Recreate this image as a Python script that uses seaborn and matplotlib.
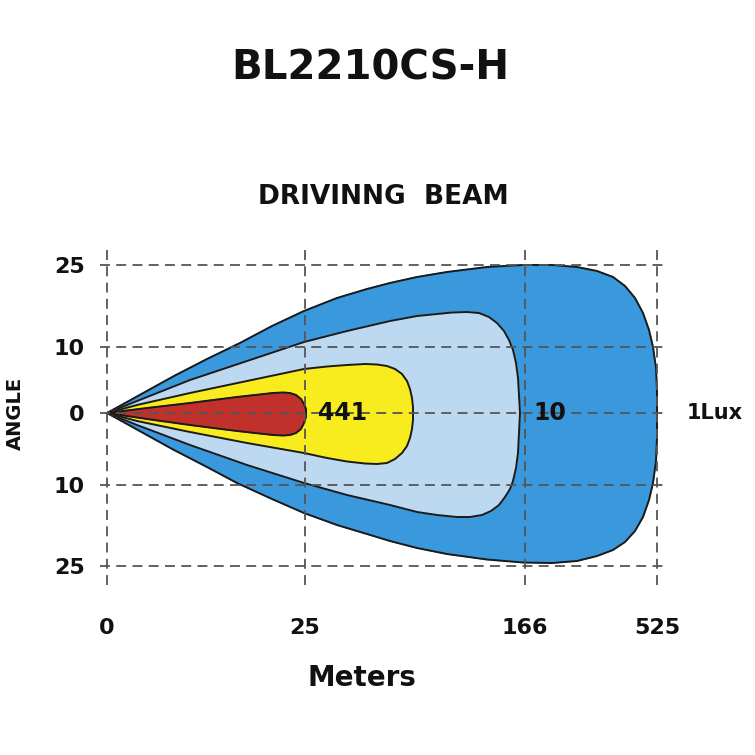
import pandas as pd
import matplotlib
matplotlib.use("Agg")
import matplotlib.pyplot as plt
import seaborn as sns

# chart units: x = distance along beam, y = spread (upper positive)
x_tick_pos = [0, 198, 418, 550]
x_tick_labels = ["0", "25", "166", "525"]
y_tick_pos = [148, 66, 0, -72, -153]
y_tick_labels = ["25", "10", "0", "10", "25"]

# 1 Lux contour (outer)
lux1_up_x = [0, 20, 67, 100, 133, 165, 197, 230, 260, 283, 310, 340, 380, 416, 445, 470, 490, 506, 518, 528, 536, 542, 546, 549, 550, 550]
lux1_up_y = [0, 11, 37, 54, 70, 87, 102, 115, 124, 130, 136, 141, 146, 148, 148, 146, 142, 136, 127, 115, 100, 83, 66, 45, 22, 0]
lux1_lo_x = [0, 20, 67, 100, 130, 165, 197, 230, 260, 283, 310, 340, 380, 416, 445, 470, 490, 506, 518, 528, 536, 542, 546, 549, 550, 550]
lux1_lo_y = [0, -11, -37, -54, -70, -86, -100, -112, -121, -128, -135, -141, -146.5, -149.5, -150, -148, -143, -137, -129, -118, -104, -87, -70, -48, -24, 0]

# 10 Lux contour
lux10_up_x = [0, 30, 83, 140, 197, 240, 283, 310, 330, 345, 360, 372, 382, 390, 397, 402, 406, 409, 411, 412, 413]
lux10_up_y = [0, 12, 33, 52, 71, 82, 92, 97, 99, 100.5, 101, 100, 96, 90, 82, 73, 63, 50, 35, 18, 0]
lux10_lo_x = [0, 30, 83, 140, 197, 240, 283, 310, 330, 350, 363, 375, 384, 392, 398, 403, 406, 409, 411, 412, 413]
lux10_lo_y = [0, -12, -32, -52, -70, -82, -92, -99, -102, -104, -104, -102, -98, -92, -84, -76, -68, -55, -40, -20, 0]

# 441 Lux contour
lux441_up_x = [0, 30, 83, 140, 197, 220, 240, 258, 270, 280, 288, 295, 300, 303, 305, 306, 306]
lux441_up_y = [0, 8, 20, 32, 44, 46.5, 48, 49, 48.5, 47, 44, 39, 32, 24, 15, 6, 0]
lux441_lo_x = [0, 30, 83, 140, 197, 220, 240, 258, 270, 280, 288, 295, 300, 303, 305, 306, 306]
lux441_lo_y = [0, -8, -19, -30, -40, -45, -48.5, -50.5, -51, -50, -46, -40, -33, -25, -16, -7, 0]

# hot spot
hot_up_x = [0, 40, 83, 130, 166, 176, 183, 189, 194, 197, 199, 199]
hot_up_y = [0, 5, 10, 16, 20, 20.5, 20, 18, 14, 9, 4, 0]
hot_lo_x = [0, 40, 83, 130, 166, 176, 183, 189, 194, 197, 199, 199]
hot_lo_y = [0, -6, -12, -18, -22, -22.5, -22, -20, -16, -10, -4, 0]

contours = [
    (lux1_up_x, lux1_up_y, lux1_lo_x, lux1_lo_y, "#3a99dc"),
    (lux10_up_x, lux10_up_y, lux10_lo_x, lux10_lo_y, "#bcd9f1"),
    (lux441_up_x, lux441_up_y, lux441_lo_x, lux441_lo_y, "#f8ec1e"),
    (hot_up_x, hot_up_y, hot_lo_x, hot_lo_y, "#c1312b"),
]

sns.set_theme(style="white")
plt.rcParams['font.family'] = ['DejaVu Sans']

fig = plt.figure(figsize=(7.55, 7.55), dpi=100)
ax = fig.add_axes([100 / 755, 1 - 585 / 755, 565 / 755, 337 / 755])

for i, (ux, uy, lx, ly, col) in enumerate(contours):
    xs = list(ux) + list(lx[::-1])
    ys = list(uy) + list(ly[::-1])
    ax.fill(xs, ys, color=col, zorder=1 + i * 0.1)
    outline = pd.DataFrame({"x": xs, "y": ys})
    sns.lineplot(data=outline, x="x", y="y", sort=False, estimator=None,
                 color="#1a1a1a", linewidth=1.4, ax=ax, zorder=1.05 + i * 0.1)

ax.set_xlim(-7, 558)
ax.set_ylim(-172, 165)
ax.set_xticks(x_tick_pos)
ax.set_xticklabels(x_tick_labels)
ax.set_yticks(y_tick_pos)
ax.set_yticklabels(y_tick_labels)
ax.set_xlabel("")
ax.set_ylabel("")
ax.tick_params(axis="x", length=0, pad=24, labelsize=16)
ax.tick_params(axis="y", length=0, pad=11, labelsize=16)
for lab in ax.get_xticklabels() + ax.get_yticklabels():
    lab.set_fontweight("bold")
    lab.set_color("#111111")

ax.set_axisbelow(False)
ax.grid(True, color="#555555", linewidth=1.3, linestyle=(0, (5.5, 3.5)), zorder=2.5)
for s in ax.spines.values():
    s.set_visible(False)
ax.set_facecolor("white")

# contour labels
ax.text(236, 0, "441", ha="center", va="center", fontsize=17, fontweight="bold", color="#111111", zorder=3)
ax.text(443, 0, "10", ha="center", va="center", fontsize=17, fontweight="bold", color="#111111", zorder=3)
ax.text(608, 0, "1Lux", ha="center", va="center", fontsize=15, fontweight="bold", color="#111111", clip_on=False)

fig.text(370 / 755, 1 - 68 / 755, "BL2210CS-H", ha="center", va="center", fontsize=29, fontweight="bold", color="#111111")
fig.text(383 / 755, 1 - 197 / 755, "DRIVINNG  BEAM", ha="center", va="center", fontsize=19, fontweight="bold", color="#111111")
fig.text(362 / 755, 1 - 678 / 755, "Meters", ha="center", va="center", fontsize=20, fontweight="bold", color="#111111")
fig.text(15 / 755, 1 - 413 / 755, "ANGLE", ha="center", va="center", rotation=90, fontsize=14, fontweight="bold", color="#111111")

plt.savefig("out.png", dpi=100)
plt.close()
